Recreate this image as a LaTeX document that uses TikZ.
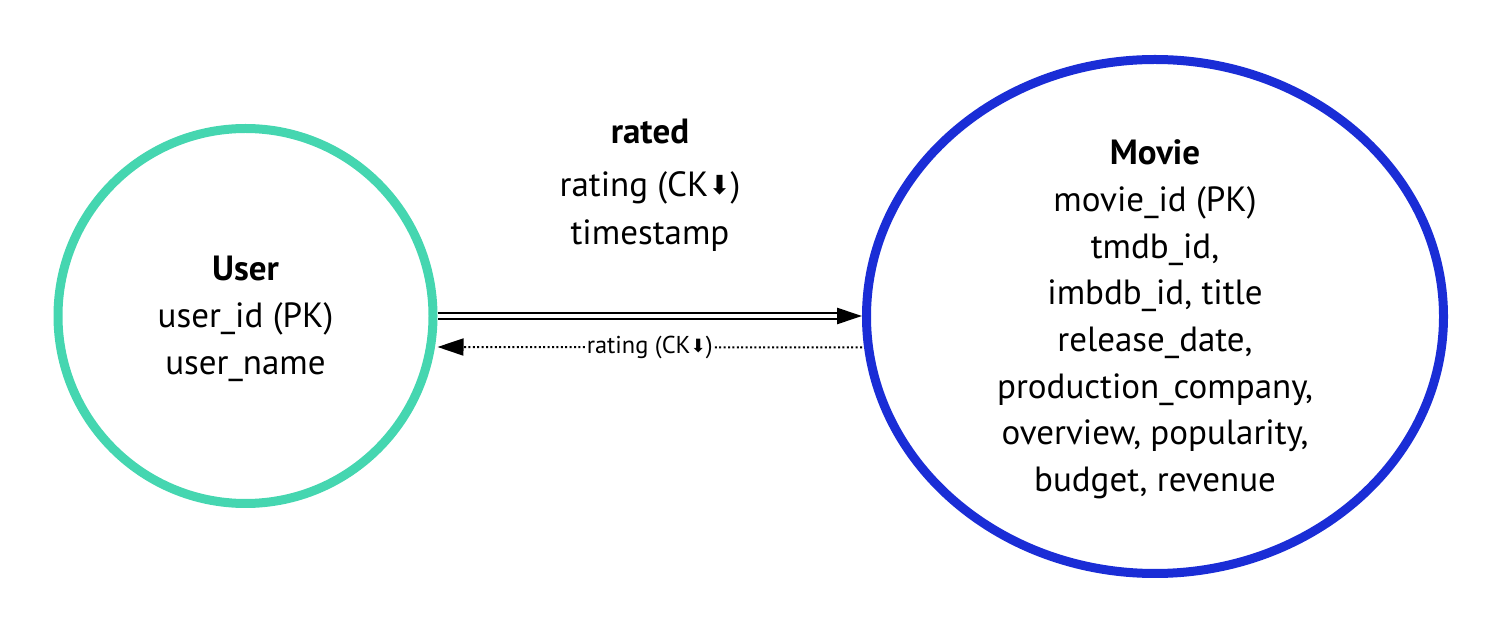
\documentclass[tikz,border=0pt]{standalone}
\usepackage{fontspec}
\usepackage{graphicx}
\setmainfont{PT Sans}
\newfontfamily\symfont{DejaVu Sans}
\usetikzlibrary{arrows.meta,shapes.geometric,calc}
\definecolor{userteal}{RGB}{69,214,176}
\definecolor{movieblue}{RGB}{26,45,214}
\newcommand{\ckarrow}{\raisebox{0.1ex}{\scalebox{0.75}{\symfont\char"2B07}}}
\begin{document}
\begin{tikzpicture}[x=1pt,y=1pt,
  entity/.style={draw,line width=4.5pt,inner sep=0pt},
  maintext/.style={align=center,font=\fontsize{17.5}{23.35}\selectfont,inner sep=0pt},
  reltextstyle/.style={align=center,font=\fontsize{17.5}{24}\selectfont,inner sep=0pt},
  smalltext/.style={font=\fontsize{12.2}{15}\selectfont,fill=white,inner sep=0.6pt},
  relarrow/.style={line width=1.3pt,double distance=1.6pt,-{Triangle[length=12.5pt,width=8pt]}},
  backarrow/.style={line width=1pt,dash pattern=on 1pt off 1.2pt,-{Triangle[length=13pt,width=8.5pt]}}
]
\useasboundingbox (0,0) rectangle (750,316);
\node[entity,draw=userteal,circle,minimum size=187.5pt] (user) at (122.75,158) {};
\node[entity,draw=movieblue,ellipse,minimum width=288.5pt,minimum height=257pt] (movie) at (577.5,157.75) {};
\node[maintext] (usertext) at ([yshift=-1.5pt]user.center) {\textbf{User}\\user\_id (PK)\\user\_name};
\node[maintext] (movietext) at ([yshift=-1.5pt]movie.center) {\textbf{Movie}\\movie\_id (PK)\\tmdb\_id,\\imbdb\_id, title\\release\_date,\\production\_company,\\overview, popularity,\\budget, revenue};
\node[reltextstyle] (reltext) at (325,223.5) {\textbf{rated}\\[2.5pt]rating (CK\ckarrow)\\timestamp};
\draw[relarrow] (user.east) -- (user.east -| movie.west);
\coordinate (dotR) at ([yshift=-15.5pt]movie.west);
\coordinate (dotL) at ([yshift=-15.5pt]user.east);
\draw[backarrow] (dotR) -- node[smalltext] (backlabel) {rating (CK\ckarrow)} (dotL);
\end{tikzpicture}
\end{document}
